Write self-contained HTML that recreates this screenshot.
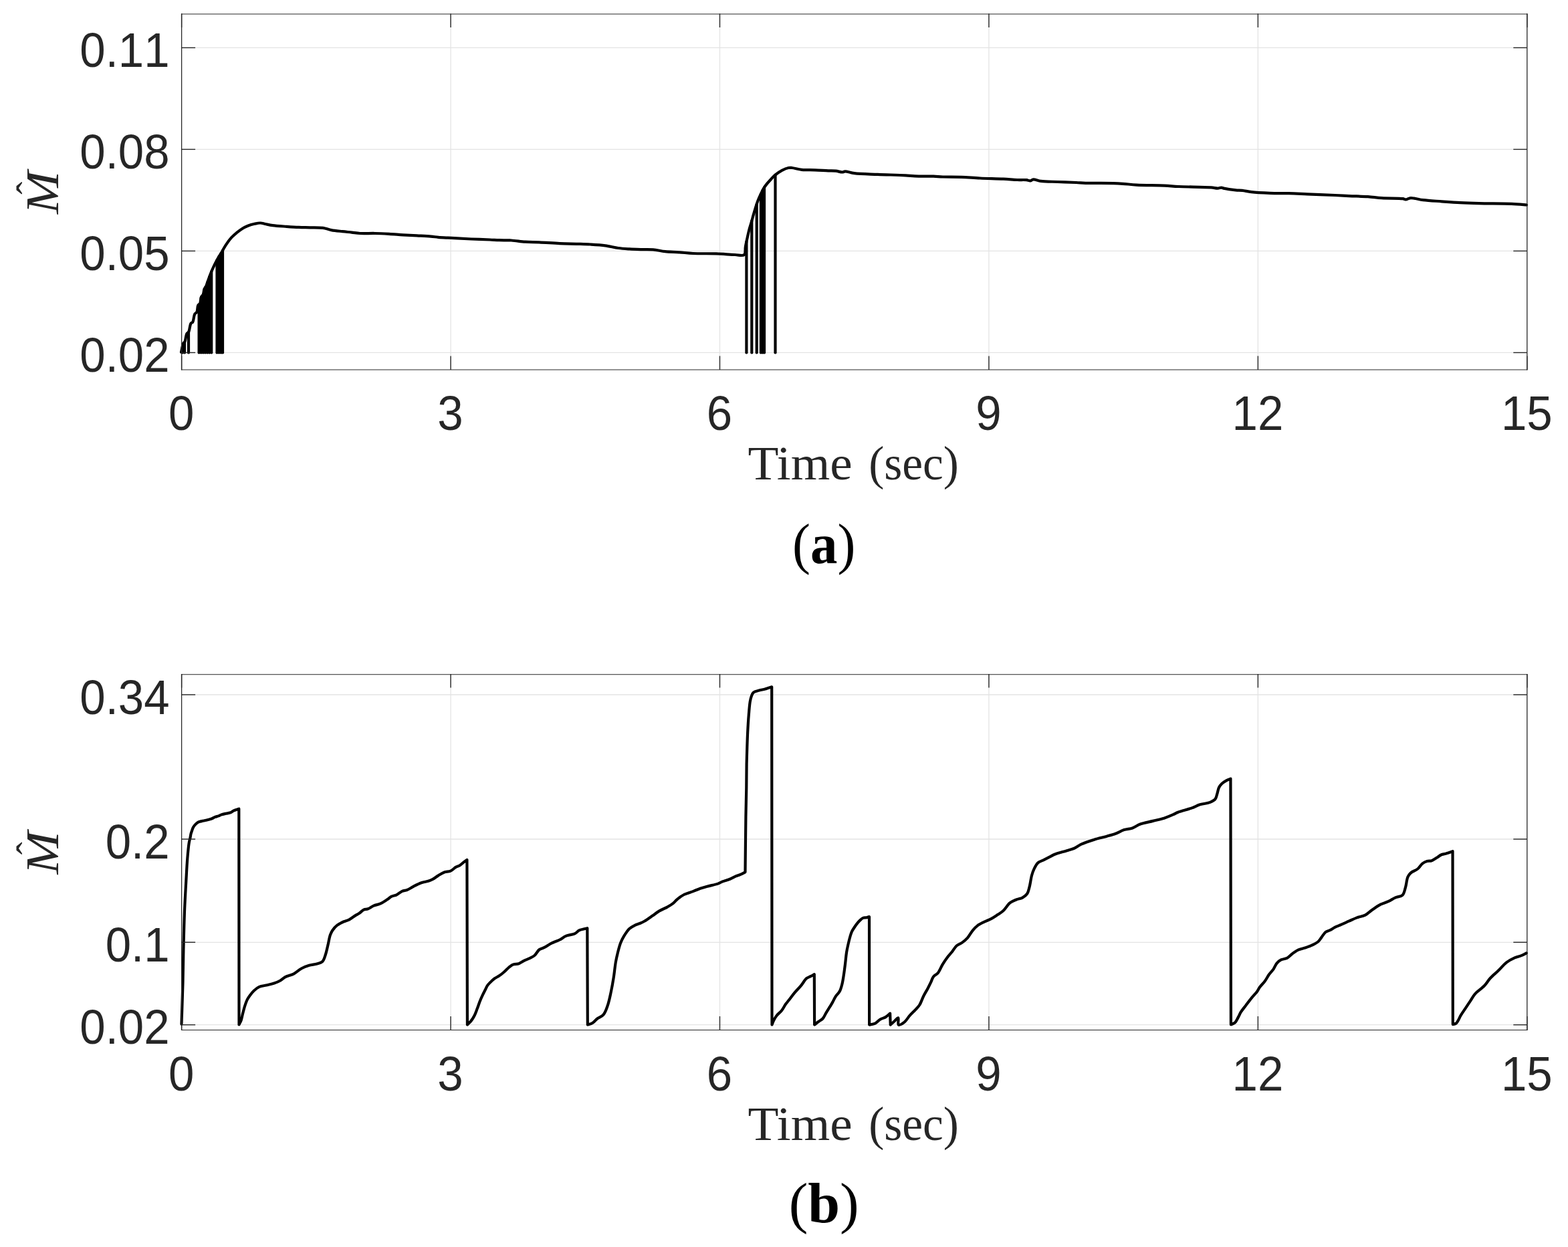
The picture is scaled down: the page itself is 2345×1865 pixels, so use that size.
<!DOCTYPE html>
<html><head><meta charset="utf-8"><title>M hat vs time</title><style>
html,body{margin:0;padding:0;background:#fff;}
body{width:2345px;height:1865px;overflow:hidden;}
svg{display:block;}
.tk{font-family:"Liberation Sans",Arial,sans-serif;font-size:69px;fill:#262626;font-kerning:none;}
.xl{font-family:"Liberation Serif","Times New Roman",serif;font-size:72.5px;fill:#262626;}
.yl{font-family:"Liberation Serif","Times New Roman",serif;font-style:italic;font-size:70.7px;fill:#262626;}
.hat{font-family:"Liberation Serif","Times New Roman",serif;font-size:57px;fill:#262626;}
.cap{font-family:"Liberation Serif","Times New Roman",serif;font-size:84.7px;fill:#000;}
.cap .b{font-weight:bold;}
</style></head><body>
<svg width="2345" height="1865" viewBox="0 0 2345 1865">
<rect width="100%" height="100%" fill="#ffffff"/>
<line x1="674.04" y1="20.5" x2="674.04" y2="552.9" stroke="#e3e3e3" stroke-width="1.3"/>
<line x1="1076.48" y1="20.5" x2="1076.48" y2="552.9" stroke="#e3e3e3" stroke-width="1.3"/>
<line x1="1478.92" y1="20.5" x2="1478.92" y2="552.9" stroke="#e3e3e3" stroke-width="1.3"/>
<line x1="1881.36" y1="20.5" x2="1881.36" y2="552.9" stroke="#e3e3e3" stroke-width="1.3"/>
<line x1="271.6" y1="527.40" x2="2283.8" y2="527.40" stroke="#e3e3e3" stroke-width="1.3"/>
<line x1="271.6" y1="375.40" x2="2283.8" y2="375.40" stroke="#e3e3e3" stroke-width="1.3"/>
<line x1="271.6" y1="223.40" x2="2283.8" y2="223.40" stroke="#e3e3e3" stroke-width="1.3"/>
<line x1="271.6" y1="71.40" x2="2283.8" y2="71.40" stroke="#e3e3e3" stroke-width="1.3"/>
<line x1="674.04" y1="1008.0" x2="674.04" y2="1540.4" stroke="#e3e3e3" stroke-width="1.3"/>
<line x1="1076.48" y1="1008.0" x2="1076.48" y2="1540.4" stroke="#e3e3e3" stroke-width="1.3"/>
<line x1="1478.92" y1="1008.0" x2="1478.92" y2="1540.4" stroke="#e3e3e3" stroke-width="1.3"/>
<line x1="1881.36" y1="1008.0" x2="1881.36" y2="1540.4" stroke="#e3e3e3" stroke-width="1.3"/>
<line x1="271.6" y1="1532.70" x2="2283.8" y2="1532.70" stroke="#e3e3e3" stroke-width="1.3"/>
<line x1="271.6" y1="1409.28" x2="2283.8" y2="1409.28" stroke="#e3e3e3" stroke-width="1.3"/>
<line x1="271.6" y1="1255.00" x2="2283.8" y2="1255.00" stroke="#e3e3e3" stroke-width="1.3"/>
<line x1="271.6" y1="1039.00" x2="2283.8" y2="1039.00" stroke="#e3e3e3" stroke-width="1.3"/>
<g fill="none" stroke="#000" stroke-width="4.2" stroke-linejoin="round" stroke-linecap="round">
<path d="M271.00,526.60C271.57,524.37 273.05,515.25 274.40,513.20C274.93,512.39 275.57,512.70 276.10,511.90C277.42,509.91 277.91,501.64 279.40,499.10C280.19,497.75 281.30,497.85 282.10,496.50C283.60,493.96 283.93,486.01 285.50,483.70C286.29,482.54 287.42,482.85 288.20,481.70C289.70,479.48 289.80,472.07 291.30,469.60C292.15,468.20 293.52,468.27 294.30,466.90C295.55,464.69 295.09,458.73 296.30,456.60C297.01,455.35 298.29,455.44 299.00,454.20C300.20,452.10 299.89,446.46 301.00,444.10C301.72,442.58 302.99,442.27 303.70,440.80C304.73,438.67 304.66,434.40 305.60,432.10C306.30,430.40 307.40,429.65 308.20,428.00C309.25,425.82 309.97,422.86 311.00,420.00C312.20,416.66 313.62,412.65 315.00,409.20C316.29,405.97 317.63,402.88 319.00,399.90C320.30,397.09 321.63,394.42 323.00,391.80C324.33,389.26 325.62,386.95 327.10,384.40C328.73,381.60 330.64,378.67 332.40,375.70C334.21,372.64 335.71,369.47 337.80,366.30C340.12,362.78 342.97,358.72 345.80,355.60C348.37,352.77 351.15,350.48 353.90,348.20C356.52,346.03 359.04,343.97 361.90,342.20C364.83,340.39 368.11,338.74 371.30,337.50C374.38,336.30 377.61,335.47 380.70,334.80C383.63,334.16 386.63,333.42 389.40,333.50C391.95,333.57 394.01,334.47 396.70,335.00C400.01,335.65 403.50,336.52 407.80,337.10C413.66,337.89 421.98,338.32 428.70,338.80C434.95,339.24 440.89,339.65 446.80,339.90C452.48,340.14 457.72,340.14 463.50,340.30C469.75,340.47 477.26,340.09 483.00,340.90C487.67,341.56 491.00,343.25 495.50,344.10C500.64,345.08 506.89,345.60 512.20,346.20C517.04,346.75 521.59,347.12 526.10,347.60C530.38,348.06 533.83,348.73 538.60,349.00C544.96,349.35 553.59,348.84 560.90,349.00C567.98,349.15 574.84,349.52 581.80,349.90C588.74,350.28 595.66,350.88 602.60,351.30C609.56,351.72 616.53,352.02 623.50,352.40C630.47,352.78 638.53,353.11 644.40,353.60C648.69,353.95 651.55,354.46 655.50,354.80C660.01,355.18 665.22,355.43 670.00,355.70C674.68,355.96 678.80,356.14 683.90,356.40C690.16,356.72 697.34,357.17 704.80,357.50C713.41,357.88 724.92,358.17 732.60,358.50C738.03,358.73 741.56,359.03 746.50,359.20C752.13,359.39 758.36,359.12 764.60,359.50C771.32,359.91 778.52,361.23 785.50,361.70C792.46,362.17 798.77,361.97 806.40,362.30C815.63,362.70 827.31,363.68 837.00,364.10C845.75,364.48 854.04,364.56 862.00,364.80C869.28,365.02 875.83,365.10 882.90,365.50C890.19,365.92 897.96,366.34 905.10,367.30C911.84,368.21 918.33,370.14 924.60,371.00C930.36,371.79 935.57,372.05 941.30,372.40C947.35,372.77 953.94,372.93 960.00,373.10C965.72,373.26 971.04,372.91 976.70,373.40C982.63,373.91 988.53,375.55 994.80,376.20C1001.50,376.89 1008.75,376.83 1015.70,377.30C1022.65,377.77 1028.67,378.64 1036.50,379.00C1046.61,379.47 1060.35,379.02 1071.30,379.40C1081.09,379.74 1091.44,380.72 1099.10,381.00C1104.49,381.19 1110.30,383.38 1112.90,381.20C1115.38,379.12 1114.12,373.04 1114.90,368.80C1115.73,364.29 1116.80,359.44 1117.80,354.90C1118.77,350.51 1119.73,346.00 1120.80,342.00C1121.75,338.47 1122.82,335.49 1123.80,332.10C1124.82,328.56 1125.79,324.74 1126.80,321.20C1127.76,317.82 1128.62,314.74 1129.70,311.30C1130.89,307.50 1132.27,303.05 1133.70,299.40C1134.96,296.18 1136.35,293.38 1137.70,290.50C1138.99,287.75 1140.20,284.92 1141.60,282.50C1142.85,280.34 1144.07,278.60 1145.60,276.60C1147.32,274.34 1149.33,272.04 1151.50,269.70C1153.92,267.09 1156.57,264.15 1159.50,261.70C1162.52,259.17 1165.99,256.61 1169.40,254.80C1172.60,253.10 1176.52,251.52 1179.30,251.00C1181.21,250.65 1182.20,250.80 1184.30,251.00C1187.94,251.34 1193.78,253.23 1199.10,253.80C1205.22,254.45 1212.38,254.05 1219.00,254.30C1225.61,254.55 1233.13,255.06 1238.80,255.30C1243.06,255.48 1246.41,255.31 1250.00,255.70C1253.36,256.07 1257.14,257.59 1259.70,257.50C1261.40,257.44 1262.09,256.45 1263.90,256.40C1267.18,256.31 1272.09,258.49 1277.80,259.20C1286.75,260.31 1300.47,260.40 1312.60,260.90C1325.89,261.45 1344.21,261.73 1354.40,262.30C1360.28,262.63 1362.87,263.16 1368.30,263.40C1375.97,263.74 1388.43,263.44 1396.10,263.70C1401.53,263.89 1404.57,264.31 1410.00,264.50C1417.67,264.76 1428.53,264.47 1437.80,264.80C1447.10,265.13 1455.88,266.05 1465.70,266.50C1476.66,267.01 1490.39,267.10 1500.50,267.60C1508.32,267.99 1515.06,268.75 1521.30,269.00C1526.40,269.21 1531.62,268.79 1535.20,269.20C1537.50,269.46 1539.06,270.58 1540.80,270.40C1542.41,270.23 1543.42,268.59 1545.30,268.40C1548.20,268.11 1552.13,270.30 1556.70,270.90C1563.39,271.77 1573.14,271.66 1581.70,272.00C1590.74,272.36 1601.91,272.64 1609.60,273.00C1615.03,273.25 1617.62,273.61 1623.50,273.80C1633.67,274.13 1655.03,273.81 1665.20,274.10C1671.08,274.27 1674.00,274.45 1679.10,274.80C1685.36,275.23 1691.83,276.15 1700.00,276.60C1711.53,277.23 1730.28,277.07 1741.80,277.60C1749.94,277.97 1754.21,278.60 1762.60,279.00C1775.43,279.62 1801.26,279.59 1811.30,280.40C1815.82,280.76 1818.31,281.79 1821.10,281.70C1823.20,281.63 1824.99,280.53 1826.60,280.60C1827.88,280.66 1828.40,281.25 1830.00,281.60C1833.63,282.40 1842.99,283.79 1848.10,284.30C1851.82,284.67 1854.29,284.42 1857.80,284.80C1862.03,285.26 1866.25,286.48 1871.70,287.10C1879.38,287.97 1890.30,288.45 1899.60,288.80C1908.87,289.15 1918.13,288.95 1927.40,289.20C1936.67,289.45 1944.99,289.89 1955.20,290.30C1967.72,290.80 1985.47,291.46 1997.00,292.00C2005.13,292.38 2010.36,292.77 2017.80,293.10C2026.42,293.48 2037.09,293.51 2045.70,294.10C2053.15,294.61 2058.84,295.69 2066.50,296.20C2075.90,296.82 2092.36,296.34 2098.00,297.20C2100.12,297.52 2100.74,298.44 2102.30,298.40C2104.21,298.35 2106.48,296.59 2108.60,296.30C2110.65,296.02 2112.34,296.31 2114.80,296.60C2118.49,297.04 2123.11,298.49 2128.50,299.20C2136.12,300.21 2147.03,300.65 2156.30,301.30C2165.56,301.95 2174.82,302.63 2184.10,303.10C2193.39,303.57 2201.41,303.83 2212.00,304.10C2225.99,304.45 2247.60,304.21 2260.70,304.80C2269.57,305.20 2279.28,306.22 2283.00,306.50"/>
<line x1="272.9" y1="519.1" x2="272.9" y2="527.4"/>
<line x1="276.0" y1="512.0" x2="276.0" y2="527.4"/>
<line x1="282.0" y1="496.6" x2="282.0" y2="527.4"/>
<line x1="297.6" y1="455.4" x2="297.6" y2="527.4"/>
<line x1="300.7" y1="445.6" x2="300.7" y2="527.4"/>
<line x1="303.8" y1="440.3" x2="303.8" y2="527.4"/>
<line x1="306.9" y1="430.1" x2="306.9" y2="527.4"/>
<line x1="310.0" y1="422.9" x2="310.0" y2="527.4"/>
<line x1="313.1" y1="414.3" x2="313.1" y2="527.4"/>
<line x1="316.2" y1="406.4" x2="316.2" y2="527.4"/>
<line x1="324.5" y1="389.1" x2="324.5" y2="527.4"/>
<line x1="327.5" y1="383.7" x2="327.5" y2="527.4"/>
<line x1="330.5" y1="378.8" x2="330.5" y2="527.4"/>
<line x1="333.0" y1="374.7" x2="333.0" y2="527.4"/>
<line x1="1116.4" y1="361.6" x2="1116.4" y2="527.4"/>
<line x1="1124.3" y1="330.3" x2="1124.3" y2="527.4"/>
<line x1="1131.7" y1="305.4" x2="1131.7" y2="527.4"/>
<line x1="1137.9" y1="290.1" x2="1137.9" y2="527.4"/>
<line x1="1140.5" y1="284.8" x2="1140.5" y2="527.4"/>
<line x1="1143.0" y1="280.4" x2="1143.0" y2="527.4"/>
<line x1="1159.5" y1="261.7" x2="1159.5" y2="527.4"/>
<path d="M271.50,1531.60C271.83,1521.30 273.17,1480.10 273.50,1469.80L274.40,1419.10C274.68,1409.23 275.37,1377.98 276.10,1359.90C276.72,1344.61 277.56,1330.91 278.30,1317.60C278.96,1305.70 279.46,1294.06 280.30,1283.80C281.01,1275.19 281.86,1265.74 282.80,1260.10C283.33,1256.91 284.01,1255.03 284.50,1252.70C284.93,1250.63 285.13,1248.62 285.60,1246.80C286.02,1245.18 286.56,1243.82 287.10,1242.30C287.66,1240.72 288.10,1238.99 288.90,1237.50C289.70,1236.02 290.71,1234.66 291.90,1233.40C293.18,1232.05 294.75,1230.59 296.40,1229.70C297.99,1228.84 299.75,1228.57 301.60,1228.10C303.66,1227.58 305.89,1227.35 308.20,1226.80C310.80,1226.18 314.01,1225.42 316.40,1224.50C318.37,1223.74 319.83,1222.59 321.60,1221.90C323.30,1221.23 325.24,1221.00 326.80,1220.40C328.16,1219.88 329.02,1219.14 330.50,1218.60C332.51,1217.86 335.55,1217.22 337.90,1216.70C340.00,1216.24 342.02,1216.27 343.90,1215.60C345.75,1214.93 347.49,1213.47 349.10,1212.70C350.42,1212.07 351.50,1211.68 352.80,1211.20C354.22,1210.68 356.55,1209.95 357.30,1209.70L357.50,1532.40C357.98,1531.43 359.54,1528.93 360.40,1526.60C361.57,1523.43 362.31,1518.69 363.30,1514.90C364.24,1511.30 365.10,1507.77 366.20,1504.40C367.25,1501.18 368.32,1497.85 369.70,1495.10C370.91,1492.70 372.23,1490.83 373.80,1488.70C375.52,1486.36 377.43,1483.80 379.70,1481.70C382.07,1479.51 384.77,1477.26 387.80,1475.90C390.95,1474.48 394.71,1474.36 398.30,1473.50C402.10,1472.60 406.37,1471.84 410.00,1470.60C413.33,1469.46 416.50,1468.13 419.30,1466.50C421.89,1464.99 423.49,1462.82 426.30,1461.30C429.82,1459.40 435.06,1458.70 439.10,1456.60C443.23,1454.46 446.78,1450.67 450.80,1448.50C454.57,1446.47 458.47,1444.97 462.40,1443.80C466.24,1442.66 470.60,1442.58 474.10,1441.50C477.13,1440.57 480.21,1440.07 482.30,1438.00C484.67,1435.66 485.60,1431.31 486.90,1427.50C488.36,1423.22 489.26,1418.27 490.40,1413.50C491.59,1408.54 492.45,1402.33 493.90,1398.30C494.93,1395.45 495.83,1393.57 497.40,1391.30C499.20,1388.69 501.70,1385.82 504.40,1383.70C507.15,1381.54 510.73,1379.89 513.80,1378.50C516.55,1377.26 519.11,1377.00 521.90,1375.60C525.27,1373.90 529.51,1370.37 532.40,1368.60C534.35,1367.41 535.67,1366.96 537.40,1365.80C539.48,1364.40 541.60,1361.67 543.90,1360.60C545.96,1359.64 548.16,1360.13 550.40,1359.30C553.10,1358.30 555.79,1355.90 558.80,1354.60C561.97,1353.23 565.69,1352.89 569.00,1351.40C572.49,1349.83 576.21,1347.25 579.20,1345.30C581.64,1343.71 583.37,1341.85 585.70,1340.70C588.00,1339.56 590.65,1339.58 593.10,1338.40C595.89,1337.06 598.60,1334.04 601.40,1332.80C603.84,1331.72 606.26,1331.99 608.80,1331.00C611.80,1329.84 614.77,1327.58 618.10,1325.90C621.84,1324.01 626.19,1321.72 630.20,1320.30C633.92,1318.98 638.13,1318.58 641.30,1317.50C643.79,1316.65 645.62,1315.90 647.80,1314.70C650.25,1313.34 652.55,1311.24 655.20,1309.60C658.08,1307.82 661.31,1305.65 664.50,1304.50C667.52,1303.41 670.92,1303.96 673.80,1302.70C676.80,1301.39 679.52,1298.05 682.10,1296.60C684.08,1295.49 685.91,1295.37 687.70,1294.30C689.66,1293.13 691.46,1291.12 693.30,1289.70C695.02,1288.37 697.55,1286.62 698.40,1286.00L698.90,1532.60C699.83,1531.65 702.78,1529.07 704.50,1526.90C706.38,1524.52 708.11,1521.73 709.60,1518.80C711.20,1515.66 712.36,1512.10 713.70,1508.60C715.10,1504.94 716.38,1500.84 717.80,1497.30C719.09,1494.08 720.42,1491.14 721.80,1488.20C723.12,1485.38 724.62,1482.53 725.90,1480.00C727.00,1477.81 727.76,1475.72 729.00,1473.90C730.18,1472.17 731.55,1470.87 733.10,1469.30C734.89,1467.48 736.99,1465.32 739.20,1463.70C741.40,1462.09 743.98,1461.16 746.30,1459.60C748.75,1457.95 751.08,1456.08 753.50,1454.00C756.18,1451.70 758.98,1448.34 761.60,1446.30C763.72,1444.65 765.50,1443.25 767.80,1442.40C770.24,1441.50 773.27,1442.10 775.90,1441.20C778.72,1440.24 781.34,1437.97 784.10,1436.60C786.77,1435.28 789.61,1434.39 792.20,1433.10C794.71,1431.85 797.17,1430.89 799.40,1429.00C802.00,1426.80 803.86,1422.29 806.50,1420.30C808.71,1418.63 811.08,1418.53 813.70,1417.20C817.07,1415.49 821.02,1412.54 824.90,1410.60C828.82,1408.64 833.38,1407.39 837.10,1405.50C840.45,1403.79 842.83,1401.39 846.30,1399.90C850.22,1398.22 855.98,1398.02 859.60,1396.30C862.48,1394.93 863.90,1392.51 866.70,1391.20C869.98,1389.67 876.37,1388.70 878.30,1388.20L878.80,1532.60C880.02,1532.17 883.80,1531.37 886.10,1530.00C888.67,1528.47 890.67,1525.52 893.30,1523.50C896.08,1521.37 899.95,1520.42 902.40,1517.60C905.25,1514.32 906.83,1509.30 908.60,1504.30C910.72,1498.31 912.19,1490.89 913.70,1483.90C915.27,1476.61 916.61,1468.91 917.80,1461.40C918.98,1453.94 919.64,1445.61 920.80,1439.00C921.73,1433.68 922.71,1429.45 923.90,1424.70C925.10,1419.91 926.33,1414.70 928.00,1410.40C929.46,1406.64 931.04,1403.60 933.10,1400.20C935.37,1396.46 938.19,1391.81 941.20,1389.00C943.72,1386.65 946.60,1385.28 949.40,1383.90C952.07,1382.58 955.09,1381.89 957.60,1380.80C959.81,1379.84 961.37,1379.15 963.70,1377.80C967.13,1375.82 972.03,1372.27 975.90,1369.60C979.47,1367.14 982.45,1364.57 986.10,1362.40C989.93,1360.12 994.77,1358.33 998.40,1356.30C1001.43,1354.60 1004.07,1353.12 1006.50,1351.20C1008.81,1349.37 1010.28,1347.11 1012.70,1345.10C1015.59,1342.70 1019.07,1339.97 1022.90,1338.00C1027.12,1335.82 1032.77,1334.55 1037.10,1332.90C1040.79,1331.49 1043.86,1330.00 1047.30,1328.80C1050.70,1327.61 1053.76,1326.76 1057.60,1325.70C1062.40,1324.37 1069.83,1323.09 1073.90,1321.60C1076.49,1320.65 1077.58,1319.60 1080.00,1318.60C1083.33,1317.23 1088.63,1315.98 1092.20,1314.50C1095.14,1313.28 1097.40,1311.73 1100.00,1310.60C1102.50,1309.51 1105.07,1308.86 1107.50,1307.80C1109.90,1306.75 1113.33,1304.88 1114.50,1304.30L1114.90,1265.00L1115.40,1221.20L1116.30,1177.50L1116.60,1142.50C1116.83,1135.20 1117.39,1111.88 1118.00,1098.70C1118.50,1087.84 1118.99,1078.24 1119.80,1069.00C1120.51,1060.89 1120.85,1052.26 1122.40,1046.20C1123.49,1041.94 1124.32,1037.96 1126.70,1035.70C1128.86,1033.65 1132.54,1033.47 1135.50,1032.60C1138.41,1031.74 1141.30,1031.34 1144.30,1030.50C1147.52,1029.60 1152.55,1027.83 1154.20,1027.30L1154.50,1532.60C1154.90,1531.58 1155.85,1528.61 1156.90,1526.50C1158.15,1524.01 1159.77,1521.14 1161.70,1518.70C1163.73,1516.12 1166.73,1514.21 1168.90,1511.50C1171.20,1508.62 1173.01,1504.60 1175.00,1501.80C1176.63,1499.51 1177.99,1498.11 1179.80,1495.80C1182.22,1492.71 1185.23,1488.47 1188.20,1484.90C1191.25,1481.23 1194.85,1477.77 1197.90,1474.10C1200.87,1470.53 1203.45,1465.54 1206.30,1463.20C1208.31,1461.56 1210.44,1461.23 1212.40,1460.20C1214.27,1459.22 1216.90,1457.70 1217.80,1457.20L1218.10,1532.60C1219.15,1531.78 1222.31,1529.25 1224.40,1527.70C1226.41,1526.22 1228.67,1525.38 1230.40,1523.50C1232.39,1521.34 1233.56,1517.99 1235.30,1515.10C1237.18,1511.97 1239.56,1508.25 1241.30,1505.40C1242.66,1503.17 1243.65,1501.63 1244.90,1499.40C1246.42,1496.70 1247.86,1493.14 1249.70,1490.30C1251.50,1487.51 1254.21,1485.47 1255.80,1482.50C1257.51,1479.32 1258.42,1475.52 1259.40,1471.70C1260.46,1467.53 1261.05,1463.18 1261.80,1458.40C1262.67,1452.84 1263.48,1446.12 1264.20,1440.30C1264.87,1434.88 1265.24,1429.47 1266.00,1424.60C1266.67,1420.32 1267.48,1416.64 1268.40,1412.60C1269.34,1408.44 1270.55,1403.52 1271.60,1400.00C1272.38,1397.40 1272.92,1395.40 1273.90,1393.30C1274.86,1391.24 1276.15,1389.42 1277.40,1387.50C1278.68,1385.52 1280.02,1383.46 1281.50,1381.60C1282.96,1379.76 1284.57,1377.90 1286.20,1376.40C1287.68,1375.04 1289.11,1373.58 1290.80,1372.90C1292.42,1372.25 1294.48,1372.64 1296.10,1372.30C1297.51,1372.01 1299.35,1371.30 1300.00,1371.10L1300.10,1532.60C1301.55,1532.28 1306.16,1531.98 1308.80,1530.70C1311.51,1529.38 1313.46,1526.31 1316.10,1524.70C1318.70,1523.12 1321.97,1522.64 1324.50,1521.10C1326.95,1519.61 1330.00,1516.60 1331.10,1515.70L1331.70,1532.60C1332.52,1531.88 1334.85,1529.86 1336.60,1528.30C1338.64,1526.47 1341.97,1521.80 1343.20,1522.30C1344.52,1522.84 1342.17,1531.60 1343.80,1532.60C1345.35,1533.55 1349.69,1530.87 1352.30,1528.90C1355.42,1526.55 1357.83,1521.88 1360.70,1518.70C1363.43,1515.67 1366.57,1512.96 1369.10,1510.20C1371.35,1507.74 1373.36,1505.92 1375.20,1503.00C1377.49,1499.37 1379.11,1493.86 1381.20,1489.70C1383.12,1485.87 1385.33,1482.42 1387.20,1478.90C1388.95,1475.60 1390.62,1472.32 1392.10,1469.20C1393.46,1466.34 1394.02,1463.25 1395.80,1460.90C1397.58,1458.55 1400.69,1457.67 1402.80,1455.10C1405.46,1451.85 1407.29,1446.29 1409.70,1442.30C1411.94,1438.60 1414.28,1435.09 1416.70,1431.90C1418.93,1428.96 1421.33,1426.63 1423.60,1423.80C1425.97,1420.84 1427.91,1416.87 1430.60,1414.50C1433.01,1412.38 1436.09,1411.74 1438.70,1409.90C1441.50,1407.92 1444.26,1405.71 1446.80,1402.90C1449.72,1399.67 1452.15,1394.56 1454.90,1391.30C1457.20,1388.58 1459.25,1386.40 1461.90,1384.40C1464.66,1382.31 1467.89,1380.78 1471.20,1379.10C1474.81,1377.27 1479.22,1375.82 1482.80,1373.90C1486.11,1372.13 1489.05,1370.07 1492.00,1368.10C1494.84,1366.20 1497.46,1364.79 1500.20,1362.30C1503.65,1359.16 1506.93,1353.07 1510.60,1350.20C1513.57,1347.88 1516.76,1346.78 1519.90,1345.50C1522.93,1344.27 1526.37,1344.09 1529.10,1342.60C1531.75,1341.16 1534.37,1339.32 1536.10,1336.80C1538.00,1334.04 1538.54,1330.35 1539.60,1326.40C1540.94,1321.38 1541.73,1313.86 1543.10,1309.00C1544.12,1305.37 1545.02,1302.73 1546.50,1299.70C1548.05,1296.52 1549.81,1292.64 1552.30,1290.40C1554.57,1288.35 1557.69,1287.80 1560.50,1286.40C1563.49,1284.91 1566.85,1283.18 1569.70,1281.70C1572.20,1280.40 1573.75,1279.22 1576.70,1278.00C1581.26,1276.11 1589.50,1274.03 1594.80,1272.40C1598.95,1271.12 1602.28,1270.56 1605.90,1269.00C1609.69,1267.37 1612.68,1264.68 1617.00,1262.70C1622.50,1260.17 1630.08,1257.70 1636.50,1255.70C1642.60,1253.80 1648.98,1252.49 1654.60,1250.90C1659.55,1249.50 1664.03,1248.36 1668.50,1246.70C1672.86,1245.08 1676.84,1242.49 1681.10,1241.10C1685.21,1239.76 1689.64,1239.80 1693.60,1238.40C1697.50,1237.02 1700.38,1234.41 1704.70,1232.80C1710.20,1230.75 1717.95,1229.47 1724.20,1227.90C1729.98,1226.45 1735.64,1225.39 1740.90,1223.70C1745.80,1222.12 1750.98,1219.91 1754.80,1218.20C1757.56,1216.97 1758.78,1215.90 1761.80,1214.70C1766.83,1212.70 1776.78,1210.52 1782.60,1208.40C1786.96,1206.81 1789.71,1204.93 1793.80,1203.60C1798.44,1202.09 1804.88,1201.78 1809.10,1200.10C1812.41,1198.78 1815.55,1197.42 1817.40,1195.20C1819.10,1193.16 1819.31,1190.31 1820.20,1187.60C1821.19,1184.56 1821.66,1180.50 1823.00,1177.80C1824.10,1175.59 1825.39,1173.96 1827.10,1172.30C1829.01,1170.45 1831.76,1168.72 1834.10,1167.40C1836.20,1166.21 1839.35,1165.07 1840.40,1164.60L1840.90,1532.30C1841.87,1531.87 1845.02,1531.18 1846.70,1529.70C1848.78,1527.87 1850.26,1524.15 1851.80,1521.40C1853.25,1518.82 1854.04,1516.38 1855.70,1513.70C1857.73,1510.43 1860.73,1506.92 1863.40,1503.40C1866.24,1499.66 1869.40,1495.47 1872.30,1491.90C1874.92,1488.68 1877.95,1485.72 1880.00,1482.90C1881.63,1480.65 1882.27,1478.75 1883.90,1476.50C1885.95,1473.68 1889.26,1470.69 1891.60,1467.50C1893.96,1464.29 1895.76,1460.39 1898.00,1457.30C1900.04,1454.48 1902.50,1452.36 1904.40,1449.60C1906.34,1446.80 1907.44,1443.04 1909.50,1440.60C1911.34,1438.42 1913.43,1436.67 1915.90,1435.40C1918.52,1434.05 1922.16,1434.34 1924.90,1432.90C1927.74,1431.41 1929.87,1428.50 1932.60,1426.50C1935.42,1424.43 1938.39,1422.20 1941.60,1420.70C1944.82,1419.20 1948.49,1418.68 1951.90,1417.50C1955.33,1416.31 1958.86,1415.13 1962.10,1413.60C1965.25,1412.11 1968.68,1410.57 1971.10,1408.50C1973.26,1406.66 1974.41,1404.38 1976.20,1402.10C1978.22,1399.52 1980.18,1395.63 1982.60,1393.80C1984.58,1392.31 1986.88,1392.28 1989.10,1391.20C1991.60,1389.98 1994.10,1388.06 1996.80,1386.70C1999.62,1385.28 2002.54,1384.28 2005.70,1382.90C2009.32,1381.32 2013.44,1379.42 2017.30,1377.70C2021.14,1375.99 2024.81,1374.08 2028.80,1372.60C2032.93,1371.07 2037.81,1370.68 2041.70,1368.70C2045.49,1366.78 2048.26,1363.55 2051.90,1361.00C2055.88,1358.21 2060.43,1354.89 2064.70,1352.70C2068.56,1350.73 2072.57,1349.94 2076.30,1348.20C2080.00,1346.47 2083.38,1343.89 2087.00,1342.30C2090.45,1340.79 2095.03,1341.16 2097.50,1338.80C2100.10,1336.32 2100.64,1331.55 2101.90,1327.40C2103.34,1322.63 2103.68,1315.60 2105.40,1311.70C2106.57,1309.05 2107.69,1307.44 2109.70,1305.60C2112.26,1303.25 2117.22,1301.94 2120.20,1299.50C2122.98,1297.22 2124.66,1293.55 2127.20,1291.60C2129.38,1289.92 2131.80,1288.83 2134.20,1288.10C2136.48,1287.41 2138.82,1288.02 2141.20,1287.20C2144.06,1286.22 2147.47,1283.60 2150.00,1282.00C2151.98,1280.75 2153.25,1279.37 2155.20,1278.50C2157.29,1277.56 2159.66,1277.46 2162.20,1276.70C2165.32,1275.77 2170.78,1273.78 2172.50,1273.20L2172.80,1532.10C2173.65,1531.80 2176.30,1531.64 2177.90,1530.30C2180.49,1528.15 2182.50,1521.98 2184.90,1518.10C2187.17,1514.43 2189.57,1511.10 2191.90,1507.60C2194.23,1504.10 2196.57,1500.60 2198.90,1497.10C2201.23,1493.60 2202.89,1490.04 2205.90,1486.60C2209.56,1482.42 2215.94,1478.50 2219.90,1474.30C2223.37,1470.61 2225.37,1466.65 2228.70,1463.00C2232.30,1459.06 2236.87,1455.50 2240.90,1451.60C2245.00,1447.64 2248.79,1442.68 2253.10,1439.40C2257.00,1436.43 2261.38,1434.20 2265.40,1432.40C2268.96,1430.81 2272.79,1430.19 2275.90,1428.90C2278.51,1427.82 2281.73,1425.98 2282.90,1425.40"/>
</g>
<line x1="271.0" y1="21.0" x2="2284.4" y2="21.0" stroke="#262626" stroke-width="1.1"/>
<line x1="271.0" y1="553.0" x2="2284.4" y2="553.0" stroke="#262626" stroke-width="1.1"/>
<line x1="271.6" y1="20.5" x2="271.6" y2="553.5" stroke="#262626" stroke-width="1.3"/>
<line x1="2283.8" y1="20.5" x2="2283.8" y2="553.5" stroke="#262626" stroke-width="1.3"/>
<line x1="271.60" y1="552.9" x2="271.60" y2="532.4" stroke="#262626" stroke-width="1.4"/>
<line x1="271.60" y1="20.5" x2="271.60" y2="41.0" stroke="#262626" stroke-width="1.4"/>
<line x1="674.04" y1="552.9" x2="674.04" y2="532.4" stroke="#262626" stroke-width="1.4"/>
<line x1="674.04" y1="20.5" x2="674.04" y2="41.0" stroke="#262626" stroke-width="1.4"/>
<line x1="1076.48" y1="552.9" x2="1076.48" y2="532.4" stroke="#262626" stroke-width="1.4"/>
<line x1="1076.48" y1="20.5" x2="1076.48" y2="41.0" stroke="#262626" stroke-width="1.4"/>
<line x1="1478.92" y1="552.9" x2="1478.92" y2="532.4" stroke="#262626" stroke-width="1.4"/>
<line x1="1478.92" y1="20.5" x2="1478.92" y2="41.0" stroke="#262626" stroke-width="1.4"/>
<line x1="1881.36" y1="552.9" x2="1881.36" y2="532.4" stroke="#262626" stroke-width="1.4"/>
<line x1="1881.36" y1="20.5" x2="1881.36" y2="41.0" stroke="#262626" stroke-width="1.4"/>
<line x1="2283.80" y1="552.9" x2="2283.80" y2="532.4" stroke="#262626" stroke-width="1.4"/>
<line x1="2283.80" y1="20.5" x2="2283.80" y2="41.0" stroke="#262626" stroke-width="1.4"/>
<line x1="271.6" y1="527.40" x2="292.1" y2="527.40" stroke="#262626" stroke-width="1.4"/>
<line x1="2283.8" y1="527.40" x2="2263.3" y2="527.40" stroke="#262626" stroke-width="1.4"/>
<line x1="271.6" y1="375.40" x2="292.1" y2="375.40" stroke="#262626" stroke-width="1.4"/>
<line x1="2283.8" y1="375.40" x2="2263.3" y2="375.40" stroke="#262626" stroke-width="1.4"/>
<line x1="271.6" y1="223.40" x2="292.1" y2="223.40" stroke="#262626" stroke-width="1.4"/>
<line x1="2283.8" y1="223.40" x2="2263.3" y2="223.40" stroke="#262626" stroke-width="1.4"/>
<line x1="271.6" y1="71.40" x2="292.1" y2="71.40" stroke="#262626" stroke-width="1.4"/>
<line x1="2283.8" y1="71.40" x2="2263.3" y2="71.40" stroke="#262626" stroke-width="1.4"/>
<text class="tk" transform="translate(253.6,556.1) scale(1,1.05)" text-anchor="end">0.02</text>
<text class="tk" transform="translate(253.6,404.1) scale(1,1.05)" text-anchor="end">0.05</text>
<text class="tk" transform="translate(253.6,252.1) scale(1,1.05)" text-anchor="end">0.08</text>
<text class="tk" transform="translate(253.6,100.1) scale(1,1.05)" text-anchor="end">0.11</text>
<text class="tk" transform="translate(271.1,643.3) scale(1,1.05)" text-anchor="middle">0</text>
<text class="tk" transform="translate(673.5,643.3) scale(1,1.05)" text-anchor="middle">3</text>
<text class="tk" transform="translate(1076.0,643.3) scale(1,1.05)" text-anchor="middle">6</text>
<text class="tk" transform="translate(1478.4,643.3) scale(1,1.05)" text-anchor="middle">9</text>
<text class="tk" transform="translate(1880.9,643.3) scale(1,1.05)" text-anchor="middle">12</text>
<text class="tk" transform="translate(2283.3,643.3) scale(1,1.05)" text-anchor="middle">15</text>
<text class="xl" transform="translate(1118.5,717.1) scale(1.038,1)">Time</text>
<text class="xl" transform="translate(1299.2,717.1) scale(0.956,1)">(sec)</text>
<g transform="translate(87.0,287.9) rotate(-90)"><text class="yl" x="0" y="0" text-anchor="middle" transform="scale(1.09,1)">M</text><text class="hat" x="6.7" y="-23.1" text-anchor="middle">&#x2c6;</text></g>
<text class="cap" transform="translate(1232.2,842.0) scale(0.954,1)" text-anchor="middle">(<tspan class="b">a</tspan>)</text>
<line x1="271.0" y1="1008.7" x2="2284.4" y2="1008.7" stroke="#262626" stroke-width="1.1"/>
<line x1="271.0" y1="1540.5" x2="2284.4" y2="1540.5" stroke="#262626" stroke-width="1.1"/>
<line x1="271.6" y1="1008.2" x2="271.6" y2="1541.0" stroke="#262626" stroke-width="1.3"/>
<line x1="2283.8" y1="1008.2" x2="2283.8" y2="1541.0" stroke="#262626" stroke-width="1.3"/>
<line x1="271.60" y1="1540.4" x2="271.60" y2="1519.9" stroke="#262626" stroke-width="1.4"/>
<line x1="271.60" y1="1008.0" x2="271.60" y2="1028.5" stroke="#262626" stroke-width="1.4"/>
<line x1="674.04" y1="1540.4" x2="674.04" y2="1519.9" stroke="#262626" stroke-width="1.4"/>
<line x1="674.04" y1="1008.0" x2="674.04" y2="1028.5" stroke="#262626" stroke-width="1.4"/>
<line x1="1076.48" y1="1540.4" x2="1076.48" y2="1519.9" stroke="#262626" stroke-width="1.4"/>
<line x1="1076.48" y1="1008.0" x2="1076.48" y2="1028.5" stroke="#262626" stroke-width="1.4"/>
<line x1="1478.92" y1="1540.4" x2="1478.92" y2="1519.9" stroke="#262626" stroke-width="1.4"/>
<line x1="1478.92" y1="1008.0" x2="1478.92" y2="1028.5" stroke="#262626" stroke-width="1.4"/>
<line x1="1881.36" y1="1540.4" x2="1881.36" y2="1519.9" stroke="#262626" stroke-width="1.4"/>
<line x1="1881.36" y1="1008.0" x2="1881.36" y2="1028.5" stroke="#262626" stroke-width="1.4"/>
<line x1="2283.80" y1="1540.4" x2="2283.80" y2="1519.9" stroke="#262626" stroke-width="1.4"/>
<line x1="2283.80" y1="1008.0" x2="2283.80" y2="1028.5" stroke="#262626" stroke-width="1.4"/>
<line x1="271.6" y1="1532.70" x2="292.1" y2="1532.70" stroke="#262626" stroke-width="1.4"/>
<line x1="2283.8" y1="1532.70" x2="2263.3" y2="1532.70" stroke="#262626" stroke-width="1.4"/>
<line x1="271.6" y1="1409.28" x2="292.1" y2="1409.28" stroke="#262626" stroke-width="1.4"/>
<line x1="2283.8" y1="1409.28" x2="2263.3" y2="1409.28" stroke="#262626" stroke-width="1.4"/>
<line x1="271.6" y1="1255.00" x2="292.1" y2="1255.00" stroke="#262626" stroke-width="1.4"/>
<line x1="2283.8" y1="1255.00" x2="2263.3" y2="1255.00" stroke="#262626" stroke-width="1.4"/>
<line x1="271.6" y1="1039.00" x2="292.1" y2="1039.00" stroke="#262626" stroke-width="1.4"/>
<line x1="2283.8" y1="1039.00" x2="2263.3" y2="1039.00" stroke="#262626" stroke-width="1.4"/>
<text class="tk" transform="translate(253.6,1561.4) scale(1,1.05)" text-anchor="end">0.02</text>
<text class="tk" transform="translate(253.6,1438.0) scale(1,1.05)" text-anchor="end">0.1</text>
<text class="tk" transform="translate(253.6,1283.7) scale(1,1.05)" text-anchor="end">0.2</text>
<text class="tk" transform="translate(253.6,1067.7) scale(1,1.05)" text-anchor="end">0.34</text>
<text class="tk" transform="translate(271.1,1630.8) scale(1,1.05)" text-anchor="middle">0</text>
<text class="tk" transform="translate(673.5,1630.8) scale(1,1.05)" text-anchor="middle">3</text>
<text class="tk" transform="translate(1076.0,1630.8) scale(1,1.05)" text-anchor="middle">6</text>
<text class="tk" transform="translate(1478.4,1630.8) scale(1,1.05)" text-anchor="middle">9</text>
<text class="tk" transform="translate(1880.9,1630.8) scale(1,1.05)" text-anchor="middle">12</text>
<text class="tk" transform="translate(2283.3,1630.8) scale(1,1.05)" text-anchor="middle">15</text>
<text class="xl" transform="translate(1118.5,1704.6) scale(1.038,1)">Time</text>
<text class="xl" transform="translate(1299.2,1704.6) scale(0.956,1)">(sec)</text>
<g transform="translate(87.0,1275.4) rotate(-90)"><text class="yl" x="0" y="0" text-anchor="middle" transform="scale(1.09,1)">M</text><text class="hat" x="6.7" y="-23.1" text-anchor="middle">&#x2c6;</text></g>
<text class="cap" transform="translate(1232.2,1827.7) scale(1.015,1)" text-anchor="middle">(<tspan class="b">b</tspan>)</text>
</svg>
</body></html>
